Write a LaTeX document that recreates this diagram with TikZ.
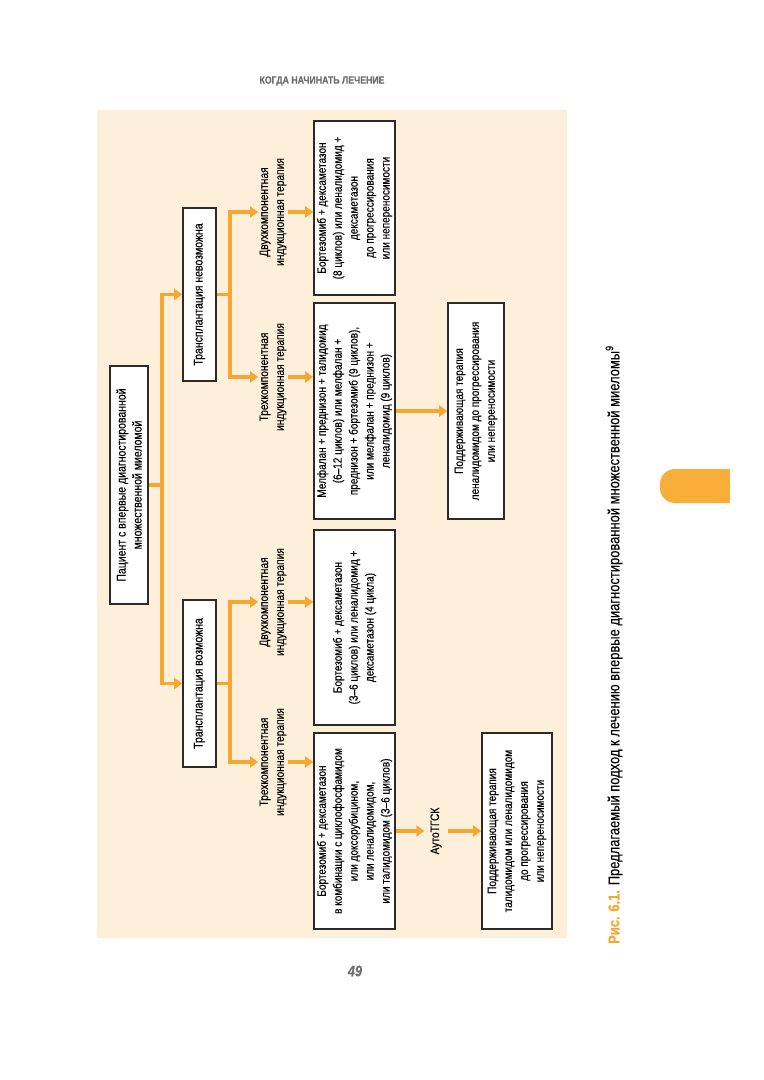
\documentclass[tikz,border=0pt]{standalone}
\usepackage{fontspec}
\setmainfont{Liberation Sans}[FakeStretch=0.83, FakeBold=0.3]
\usetikzlibrary{arrows.meta}
\definecolor{panelbg}{HTML}{FDEFD9}
\definecolor{flowline}{HTML}{F5A730}
\definecolor{boxline}{HTML}{2E2A26}
\definecolor{headgray}{HTML}{6D6E71}
\definecolor{tabcolor}{HTML}{F8AE38}
\tikzset{
  boxsize/.style 2 args={minimum height=#1*0.03cm, minimum width=#2*0.03cm},
  stepbox/.style={draw=boxline, fill=white, line width=1.3pt, rotate=90,
                  align=center, inner sep=2pt,
                  font=\fontsize{10.3}{13.6}\selectfont},
  branchlabel/.style={rotate=90, align=center, inner sep=1pt,
                      font=\fontsize{10.5}{13.6}\selectfont},
  flow/.style={flowline, line width=2.6pt},
  flowarrow/.style={flow, -{Triangle[length=2.4mm, width=3.3mm]}},
}

\begin{document}
\begin{tikzpicture}[x=0.03cm, y=-0.03cm]
    \fill[white] (0,0) rectangle (764,1080);
    \useasboundingbox (0,0) rectangle (764,1080);
    \fill[panelbg] (97,110) rectangle (567,938);

    \node[font=\fontsize{9}{10}\selectfont\bfseries, text=headgray] (header) at (322,81) {КОГДА НАЧИНАТЬ ЛЕЧЕНИЕ};
    \node[font=\fontsize{13}{15}\selectfont\bfseries\itshape, text=headgray] (pagenum) at (355,971) {49};
    \fill[tabcolor, rounded corners=0.45cm] (660,469) rectangle (730,503);
    \fill[tabcolor] (700,469) rectangle (730,503);
    \node[rotate=90, anchor=west, inner sep=0pt, font=\fontsize{13.3}{15}\selectfont] (caption) at (614,944)
      {\textcolor{flowline}{\bfseries Рис. 6.1.} Предлагаемый подход к лечению впервые диагностированной множественной миеломы\textsuperscript{9}};

    \node[stepbox, boxsize={38}{238}, font=\fontsize{10.8}{13.6}\selectfont] (patient) at (129,485) {Пациент с впервые диагностированной\\множественной миеломой};
    \node[stepbox, boxsize={33}{173}, font=\fontsize{10.8}{13.6}\selectfont] (txno) at (199.5,294.5) {Трансплантация невозможна};
    \node[stepbox, boxsize={33}{167}, font=\fontsize{10.8}{13.6}\selectfont] (txyes) at (199.5,683.5) {Трансплантация возможна};

    \node[branchlabel] (noduo) at (273,212) {Двухкомпонентная\\индукционная терапия};
    \node[branchlabel] (notri) at (273,377) {Трехкомпонентная\\индукционная терапия};
    \node[branchlabel] (yesduo) at (273,602) {Двухкомпонентная\\индукционная терапия};
    \node[branchlabel] (yestri) at (273,762) {Трехкомпонентная\\индукционная терапия};

    \node[stepbox, boxsize={81}{174}] (bdlong) at (354.5,208) {Бортезомиб + дексаметазон\\(8 циклов) или леналидомид +\\дексаметазон\\до прогрессирования\\или непереносимости};
    \node[stepbox, boxsize={81}{216}] (melph) at (354.5,411) {Мелфалан + преднизон + талидомид\\(6–12 циклов) или мелфалан +\\преднизон + бортезомиб (9 циклов),\\или мелфалан + преднизон +\\леналидомид (9 циклов)};
    \node[stepbox, boxsize={81}{195}] (bdshort) at (354.5,627.5) {Бортезомиб + дексаметазон\\(3–6 циклов) или леналидомид +\\дексаметазон (4 цикла)};
    \node[stepbox, boxsize={81}{196}] (bdcomb) at (354.5,831) {Бортезомиб + дексаметазон\\в комбинации с циклофосфамидом\\или доксорубицином,\\или леналидомидом,\\или талидомидом (3–6 циклов)};

    \node[stepbox, boxsize={56}{216}] (mainlen) at (476,411) {Поддерживающая терапия\\леналидомидом до прогрессирования\\или непереносимости};
    \node[branchlabel, inner sep=5pt] (autosct) at (436,831) {АутоТГСК};
    \node[stepbox, boxsize={70}{196}] (maintal) at (517,831) {Поддерживающая терапия\\талидомидом или леналидомидом\\до прогрессирования\\или непереносимости};

    \coordinate (trunk) at (162,485);
    \coordinate (forkno) at (230,294.5);
    \coordinate (forkyes) at (230,683.5);

    \draw[flow] (patient.south) -- (trunk);
    \draw[flowarrow] (trunk) |- (txno.north);
    \draw[flowarrow] (trunk) |- (txyes.north);

    \draw[flow] (txno.south) -- (forkno);
    \draw[flowarrow] (forkno) |- (noduo.north);
    \draw[flowarrow] (forkno) |- (notri.north);
    \draw[flow] (txyes.south) -- (forkyes);
    \draw[flowarrow] (forkyes) |- (yesduo.north);
    \draw[flowarrow] (forkyes) |- (yestri.north);

    \draw[flowarrow] (noduo.south) -- (noduo.south -| bdlong.north);
    \draw[flowarrow] (notri.south) -- (notri.south -| melph.north);
    \draw[flowarrow] (yesduo.south) -- (yesduo.south -| bdshort.north);
    \draw[flowarrow] (yestri.south) -- (yestri.south -| bdcomb.north);

    \draw[flowarrow] (melph.south) -- (mainlen.north);
    \draw[flowarrow] (bdcomb.south) -- (autosct.north);
    \draw[flowarrow] (autosct.south) -- (maintal.north);
\end{tikzpicture}
\end{document}
